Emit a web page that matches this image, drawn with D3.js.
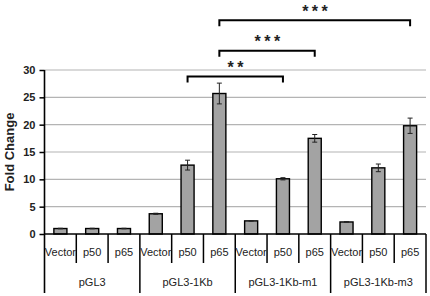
<!DOCTYPE html>
<html>
<head>
<meta charset="utf-8">
<script src="https://cdn.jsdelivr.net/npm/d3@7"></script>
<style>
  body { margin: 0; background: #fff; }
  text { font-family: "Liberation Sans", Arial, sans-serif; }
</style>
</head>
<body>
<div id="chart"></div>
<script>
// Fold change of luciferase reporter constructs
const groups = ["pGL3", "pGL3-1Kb", "pGL3-1Kb-m1", "pGL3-1Kb-m3"];
const treatments = ["Vector", "p50", "p65"];
const values = [1.0, 1.0, 1.0, 3.7, 12.6, 25.7, 2.4, 10.1, 17.5, 2.2, 12.1, 19.8];
const errors = [0.05, 0.05, 0.05, 0.1, 0.9, 1.9, 0.05, 0.2, 0.7, 0.05, 0.7, 1.4];
const yTicks = [0, 5, 10, 15, 20, 25, 30];
// significance brackets: [from bar index, to bar index, label]
const brackets = [
  { from: 4, to: 7, label: "**", level: 28.8 },
  { from: 5, to: 8, label: "***", level: 33.5 },
  { from: 5, to: 11, label: "***", level: 39.1 }
];

const config = {
  width: 430, height: 296,
  left: 44.5, right: 426, zeroY: 234, topY: 70,
  colors: { bar: "#a3a3a3", grid: "#b4b4b4", axis: "#000" }
};

const svg = d3.select("#chart").append("svg")
  .attr("width", config.width)
  .attr("height", config.height)
  .style("background", "#fff");

const cats = d3.range(values.length);
const x = d3.scaleBand().domain(cats).range([config.left, config.right]).padding(0);
const y = d3.scaleLinear().domain([0, 30]).range([config.zeroY, config.topY]);
const barW = x.bandwidth() * 0.41;

// grid lines
svg.append("g")
  .selectAll("line")
  .data(yTicks.filter(d => d > 0))
  .join("line")
  .attr("x1", config.left)
  .attr("x2", config.right)
  .attr("y1", d => y(d))
  .attr("y2", d => y(d))
  .attr("stroke", config.colors.grid)
  .attr("stroke-width", 1.2);

// y axis
const yAxis = svg.append("g")
  .attr("transform", `translate(${config.left},0)`)
  .call(d3.axisLeft(y).tickValues(yTicks).tickSize(5).tickPadding(4));
yAxis.select(".domain").remove();
yAxis.selectAll(".tick line").attr("stroke-width", 1.5);
yAxis.selectAll(".tick text")
  .style("font-size", "11px")
  .style("font-weight", "bold")
  .attr("fill", "#222");

svg.append("line")
  .attr("x1", config.left).attr("x2", config.left)
  .attr("y1", y(30)).attr("y2", 293)
  .attr("stroke", "#000").attr("stroke-width", 1.6);

svg.append("text")
  .attr("transform", `translate(14,${(y(0) + y(30)) / 2}) rotate(-90)`)
  .attr("text-anchor", "middle")
  .style("font-size", "13px")
  .style("font-weight", "bold")
  .attr("fill", "#222")
  .text("Fold Change");

// bars
svg.append("g")
  .selectAll("rect")
  .data(cats)
  .join("rect")
  .attr("x", i => x(i) + x.bandwidth() / 2 - barW / 2)
  .attr("width", barW)
  .attr("y", i => y(values[i]))
  .attr("height", i => y(0) - y(values[i]))
  .attr("fill", config.colors.bar)
  .attr("stroke", "#000")
  .attr("stroke-width", 1.4);

// error bars
const eb = svg.append("g").attr("stroke", "#222").attr("stroke-width", 1);
cats.forEach(i => {
  const cx = x(i) + x.bandwidth() / 2;
  const hi = y(values[i] + errors[i]);
  const lo = y(values[i] - errors[i]);
  eb.append("line").attr("x1", cx).attr("x2", cx).attr("y1", hi).attr("y2", lo);
  eb.append("line").attr("x1", cx - 2.5).attr("x2", cx + 2.5).attr("y1", hi).attr("y2", hi);
  eb.append("line").attr("x1", cx - 2.5).attr("x2", cx + 2.5).attr("y1", lo).attr("y2", lo);
});

// x axis line
svg.append("line")
  .attr("x1", config.left).attr("x2", config.right)
  .attr("y1", y(0)).attr("y2", y(0))
  .attr("stroke", "#000").attr("stroke-width", 1.6);

// separators between categories
svg.append("g")
  .selectAll("line")
  .data(d3.range(1, values.length + 1))
  .join("line")
  .attr("x1", i => i === values.length ? config.right : x(i))
  .attr("x2", i => i === values.length ? config.right : x(i))
  .attr("y1", y(0))
  .attr("y2", i => i % 3 === 0 ? 293 : 263)
  .attr("stroke", "#000")
  .attr("stroke-width", 1.5);

// category labels
svg.append("g")
  .selectAll("text")
  .data(cats)
  .join("text")
  .attr("x", i => x(i) + x.bandwidth() / 2)
  .attr("y", 256)
  .attr("text-anchor", "middle")
  .style("font-size", "11px")
  .attr("fill", "#222")
  .text(i => treatments[i % 3]);

// group labels
svg.append("g")
  .selectAll("text")
  .data(groups)
  .join("text")
  .attr("x", (d, g) => (x(g * 3) + x(g * 3 + 2) + x.bandwidth()) / 2)
  .attr("y", 286)
  .attr("text-anchor", "middle")
  .style("font-size", "11px")
  .attr("fill", "#222")
  .text(d => d);

// significance brackets
brackets.forEach(b => {
  const x1 = x(b.from) + x.bandwidth() / 2;
  const x2 = x(b.to) + x.bandwidth() / 2;
  const by = y(b.level);
  svg.append("path")
    .attr("d", `M${x1},${by + 6}V${by}H${x2}V${by + 6}`)
    .attr("fill", "none")
    .attr("stroke", "#000")
    .attr("stroke-width", 2);
  svg.append("text")
    .attr("x", (x1 + x2) / 2 + 2)
    .attr("y", by - 3.5)
    .attr("text-anchor", "middle")
    .style("font-size", "16px")
    .style("font-weight", "bold")
    .style("letter-spacing", "3.5px")
    .attr("fill", "#222")
    .text(b.label);
});
</script>
</body>
</html>
